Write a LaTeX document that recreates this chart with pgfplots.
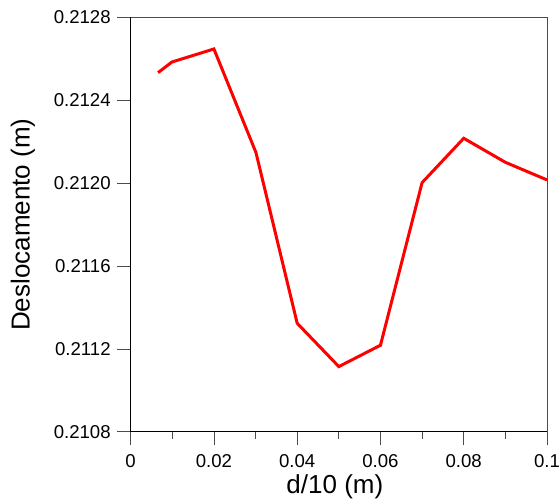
\documentclass[border=0pt]{standalone}
\usepackage{fontspec}
\setmainfont{Liberation Sans}
\usepackage{pgfplots}
\pgfplotsset{compat=1.18}

\begin{document}
\begin{tikzpicture}
\begin{axis}[
    scale only axis,
    width=416.5pt, height=414.5pt,
    xmin=0, xmax=0.1,
    ymin=0.2108, ymax=0.2128,
    xtick={0,0.02,...,0.1},
    ytick={0.2108,0.2112,...,0.2128},
    minor x tick num=1,
    minor y tick num=1,
    scaled x ticks=false,
    scaled y ticks=false,
    axis x line*=bottom,
    axis y line*=left,
    axis line style={black, line width=0.8pt, -},
    tick align=outside,
    major tick length=13.5pt,
    minor tick length=6.8pt,
    tick style={black!70, line width=0.8pt},
    tick label style={font=\fontsize{18.6}{20}\selectfont},
    /pgf/number format/assume math mode=true,
    yticklabel style={xshift=-3pt, /pgf/number format/.cd, fixed, precision=4, fixed zerofill},
    xticklabel style={yshift=-6pt, /pgf/number format/.cd, fixed, precision=2},
    xlabel={d/10 (m)},
    ylabel={Deslocamento (m)},
    every axis x label/.style={at={(axis description cs:0.4905,-0.1327)}, anchor=center,
        font=\fontsize{26}{28}\selectfont},
    every axis y label/.style={at={(axis description cs:-0.2586,0.5)}, anchor=center, rotate=90,
        font=\fontsize{26}{28}\selectfont},
    clip=false,
]
\addplot[red, line width=3pt, line join=miter] coordinates {
    (0.0066,0.212534)
    (0.0099,0.212585)
    (0.0200,0.212648)
    (0.0301,0.212148)
    (0.0400,0.211324)
    (0.0500,0.211115)
    (0.0600,0.211218)
    (0.0700,0.212003)
    (0.0800,0.212217)
    (0.0900,0.212101)
    (0.1000,0.212016)
};
\draw[black!70, line width=0.8pt] (rel axis cs:0,1) -- (rel axis cs:1,1) -- (rel axis cs:1,0);
\end{axis}
\pgfresetboundingbox
\path[use as bounding box] ([xshift=-130.7pt,yshift=-72pt]current axis.south west) rectangle ([xshift=13pt,yshift=17.5pt]current axis.north east);
\end{tikzpicture}
\end{document}
